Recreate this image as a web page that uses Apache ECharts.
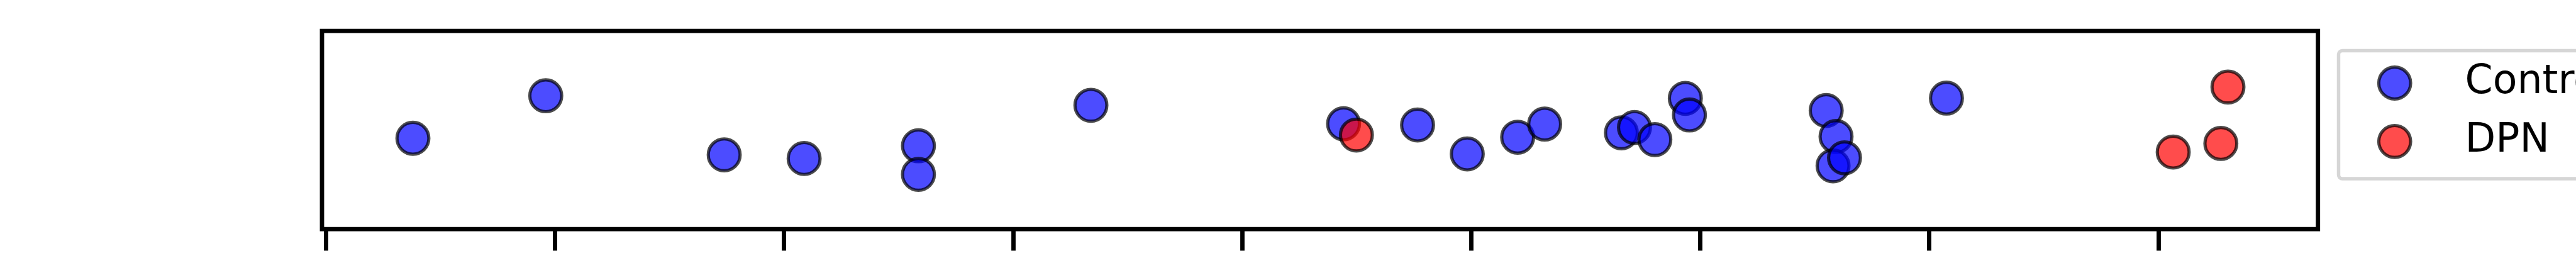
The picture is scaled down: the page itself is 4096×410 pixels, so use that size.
<!DOCTYPE html>
<html>
<head>
<meta charset="utf-8">
<script src="https://cdn.jsdelivr.net/npm/echarts@6/dist/echarts.min.js"></script>
<style>
html,body{margin:0;padding:0;background:#fff;overflow:hidden;}
#chart{width:4096px;height:410px;}
</style>
</head>
<body>
<div id="chart"></div>
<script>
// ---- data ----
const seriesNames = ['Control', 'DPN'];
const xTicks = [0, 1, 2, 3, 4, 5, 6, 7, 8];
const controlX = [0.380, 0.960, 1.739, 2.088, 2.587, 2.587, 3.340, 4.443, 4.766, 4.983, 5.203, 5.321, 5.656, 5.713, 5.802, 5.935, 5.953, 6.550, 6.593, 6.580, 6.630, 7.075];
const controlY = [-0.083, 0.346, -0.250, -0.287, -0.159, -0.447, 0.250, 0.063, 0.051, -0.241, -0.072, 0.060, -0.028, 0.026, -0.096, 0.320, 0.152, 0.197, -0.065, -0.361, -0.280, 0.322];
const dpnX = [4.499, 8.065, 8.273, 8.304];
const dpnY = [-0.050, -0.222, -0.135, 0.434];

const S = 4096 / 6000;
const zip = (xs, ys) => xs.map((x, i) => [x, ys[i]]);

const chart = echarts.init(document.getElementById('chart'), null, {renderer: 'canvas'});
const borderCol = 'rgba(0,0,0,0.7)';
const markerSize = 74.2 * S;
const markerBorder = 7.5 * S;
const legendFont = 63.3;

chart.setOption({
  animation: false,
  backgroundColor: '#ffffff',
  grid: {
    left: 750 * S,
    top: 72 * S,
    width: (5399 - 750) * S,
    height: (533.5 - 72) * S,
    show: true,
    borderColor: '#000',
    borderWidth: 10 * S,
    backgroundColor: 'transparent',
    outerBoundsMode: 'none'
  },
  xAxis: {
    type: 'value',
    position: 'bottom',
    min: -0.0169,
    max: 8.697,
    axisLine: {show: false, onZero: false},
    axisTick: {show: true, inside: false, length: 50 * S, customValues: xTicks,
      lineStyle: {color: '#000', width: 10 * S}},
    axisLabel: {show: false, customValues: xTicks},
    splitLine: {show: false}
  },
  yAxis: {
    type: 'value',
    min: -1,
    max: 1,
    show: false,
    axisLine: {onZero: false},
    splitLine: {show: false}
  },
  legend: {
    orient: 'vertical',
    left: 5447 * S,
    top: 118 * S,
    data: seriesNames,
    selectedMode: false,
    icon: 'circle',
    itemWidth: markerSize,
    itemHeight: markerSize,
    itemGap: 136 * S - legendFont,
    padding: [19.8, 300, 27.55, 61.35],
    backgroundColor: '#fff',
    borderColor: '#d6d6d6',
    borderWidth: 8 * S,
    borderRadius: 6,
    itemStyle: {borderColor: borderCol, borderWidth: markerBorder},
    textStyle: {
      fontFamily: 'DejaVu Sans',
      fontSize: legendFont,
      color: '#000',
      lineHeight: legendFont,
      padding: [0, 0, 0, 81.5]
    }
  },
  series: [
    {
      name: seriesNames[0],
      type: 'scatter',
      symbol: 'circle',
      symbolSize: markerSize,
      data: zip(controlX, controlY),
      itemStyle: {color: 'rgba(0,0,255,0.7)', borderColor: borderCol, borderWidth: markerBorder, opacity: 1},
      emphasis: {disabled: true}
    },
    {
      name: seriesNames[1],
      type: 'scatter',
      symbol: 'circle',
      symbolSize: markerSize,
      data: zip(dpnX, dpnY),
      itemStyle: {color: 'rgba(255,0,0,0.7)', borderColor: borderCol, borderWidth: markerBorder, opacity: 1},
      emphasis: {disabled: true}
    }
  ]
});
</script>
</body>
</html>
